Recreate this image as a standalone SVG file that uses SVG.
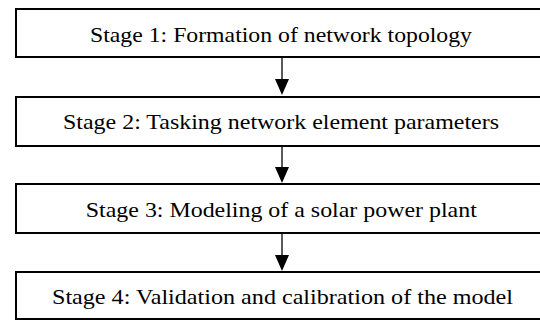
<svg xmlns="http://www.w3.org/2000/svg" width="540" height="320" viewBox="0 0 540 320">
<style>
.box{fill:#fff;stroke:#000;stroke-width:2}
.lbl{font-family:"Liberation Serif","Times New Roman",serif;font-size:22px;fill:#000;text-anchor:middle}
.ln{stroke:#000;stroke-width:1.3;fill:none}
.hd{fill:#000}
</style>
<rect width="540" height="320" fill="#fff"/>
<g id="connectors">
<line class="ln" x1="282" y1="58" x2="282" y2="80"/><polygon class="hd" points="275,79 289,79 282,95"/>
<line class="ln" x1="282" y1="146" x2="282" y2="168"/><polygon class="hd" points="275,167 289,167 282,183"/>
<line class="ln" x1="282" y1="234" x2="282" y2="256"/><polygon class="hd" points="275,255 289,255 282,271"/>
</g>
<g id="stage1"><rect class="box" x="16" y="9" width="530" height="48"/><text class="lbl" x="281" y="41.5" textLength="382" lengthAdjust="spacingAndGlyphs">Stage 1: Formation of network topology</text></g>
<g id="stage2"><rect class="box" x="16" y="97" width="530" height="49"/><text class="lbl" x="281" y="129" textLength="436" lengthAdjust="spacingAndGlyphs">Stage 2: Tasking network element parameters</text></g>
<g id="stage3"><rect class="box" x="16" y="184" width="530" height="49"/><text class="lbl" x="281.3" y="216.7" textLength="391" lengthAdjust="spacingAndGlyphs">Stage 3: Modeling of a solar power plant</text></g>
<g id="stage4"><rect class="box" x="16" y="272" width="530" height="47"/><text class="lbl" x="282.5" y="304.3" textLength="461" lengthAdjust="spacingAndGlyphs">Stage 4: Validation and calibration of the model</text></g>
</svg>
